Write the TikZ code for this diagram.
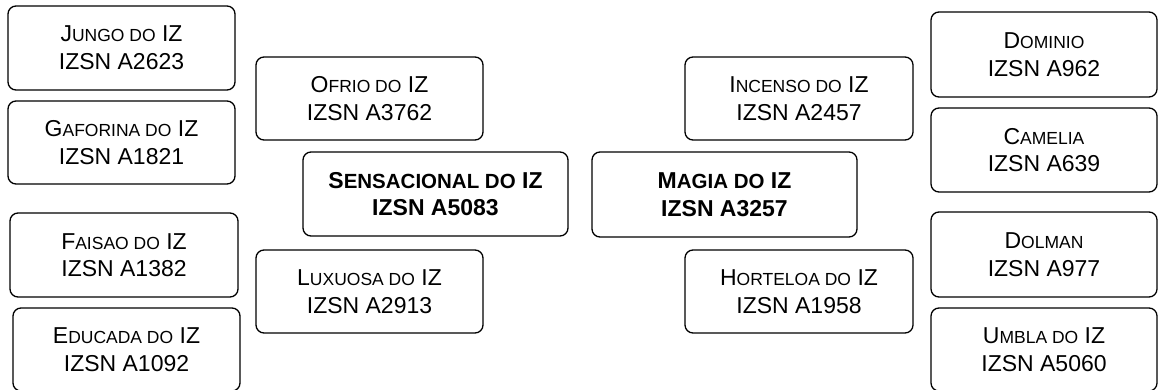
\documentclass[tikz,border=0pt]{standalone}
\usepackage{fontspec}
\setmainfont{Liberation Sans}
\newcommand{\lc}[1]{{\fontsize{17.5}{17.5}\selectfont #1}}
\newcommand{\lcb}[1]{{\fontsize{20.5}{20.5}\selectfont #1}}

\begin{document}
\begin{tikzpicture}[x=1pt,y=-1pt,
    animal/.style={draw, line width=1.3pt, rounded corners=8pt, inner sep=0pt,
      align=center, font=\fontsize{23}{27.6}\selectfont},
    size/.style 2 args={minimum width=#1pt, minimum height=#2pt}]
    \useasboundingbox (0,0) rectangle (1158,390);
    % grandparents, left
    \node[animal, size={227}{84}] (jungo) at (121.5,48) {J\lc{UNGO DO} IZ\\IZSN A2623};
    \node[animal, size={227}{83}] (gaforina) at (121.5,142.5) {G\lc{AFORINA DO} IZ\\IZSN A1821};
    \node[animal, size={228}{84}] (faisao) at (124,255) {F\lc{AISAO DO} IZ\\IZSN A1382};
    \node[animal, size={227}{83}] (educada) at (126.5,349.5) {E\lc{DUCADA DO} IZ\\IZSN A1092};
    % parents, left
    \node[animal, size={227}{83}] (ofrio) at (369.5,98.5) {O\lc{FRIO DO} IZ\\IZSN A3762};
    \node[animal, size={227}{83}] (luxuosa) at (369.5,291.5) {L\lc{UXUOSA DO} IZ\\IZSN A2913};
    % the two animals
    \node[animal, size={265}{84}, font=\fontsize{23}{27.6}\selectfont\bfseries] (sensacional) at (435.5,194) {S\lcb{ENSACIONAL DO} IZ\\IZSN A5083};
    \node[animal, size={265}{85}, font=\fontsize{23}{27.6}\selectfont\bfseries] (magia) at (724.5,194.5) {M\lcb{AGIA DO} IZ\\IZSN A3257};
    % parents, right
    \node[animal, size={228}{83}] (incenso) at (799,98.5) {I\lc{NCENSO DO} IZ\\IZSN A2457};
    \node[animal, size={228}{83}] (horteloa) at (799,291.5) {H\lc{ORTELOA DO} IZ\\IZSN A1958};
    % grandparents, right
    \node[animal, size={226}{85}] (dominio) at (1044,54.5) {D\lc{OMINIO}\\IZSN A962};
    \node[animal, size={226}{84}] (camelia) at (1044,150) {C\lc{AMELIA}\\IZSN A639};
    \node[animal, size={226}{85}] (dolman) at (1044,254.5) {D\lc{OLMAN}\\IZSN A977};
    \node[animal, size={226}{83}] (umbla) at (1044,349.5) {U\lc{MBLA DO} IZ\\IZSN A5060};
\end{tikzpicture}
\end{document}
